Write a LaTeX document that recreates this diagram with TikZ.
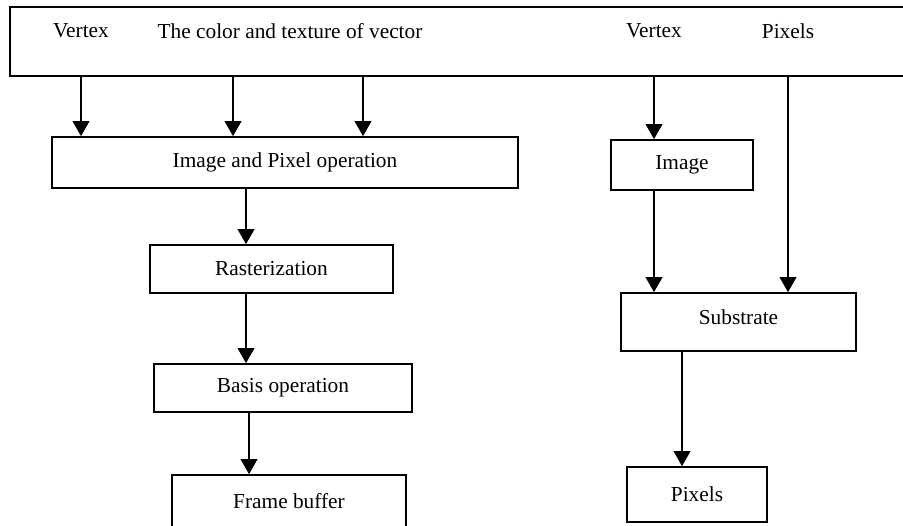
\documentclass[tikz,border=0pt]{standalone}
\usepackage{fontspec}
\setmainfont{Liberation Serif}
\usetikzlibrary{arrows.meta}
\tikzset{>={Triangle[length=9pt,width=10pt]}}
\tikzset{box/.style = {draw, line width=1pt, inner sep=0pt, font=\fontsize{12.8}{15}\selectfont}}
\tikzset{txt/.style = {inner sep=0pt, font=\fontsize{12.8}{15}\selectfont}}
\tikzset{flow/.style = {->, line width=1pt}}

\begin{document}
\begin{tikzpicture}[x=0.6pt, y=-0.6pt]
                    \useasboundingbox (0,0) rectangle (903,526);

                    % input strip along the top
                    \node[box, minimum width=540pt, minimum height=41.4pt] (in) at (460,41.5) {};
                    \node[txt] (vtxA) at (81,31) {Vertex};
                    \node[txt] (col) at (290,31) {The color and texture of vector};
                    \node[txt] (vtxB) at (654,31) {Vertex};
                    \node[txt] (pixA) at (788,31) {Pixels};

                    % left chain
                    \node[box, minimum width=279.6pt, minimum height=30.6pt] (ipo) at (285,162.5) {Image and Pixel operation};
                    \node[box, minimum width=145.8pt, minimum height=28.8pt] (ras) at (271.5,269) {Rasterization};
                    \node[box, minimum width=154.8pt, minimum height=28.8pt] (bas) at (283,388) {Basis operation};
                    \node[box, minimum width=140.4pt, minimum height=31.8pt] (fb) at (289,501.5) {Frame buffer};

                    % right chain
                    \node[box, minimum width=85.2pt, minimum height=30pt] (img) at (682,165) {Image};
                    \node[box, minimum width=141pt, minimum height=34.8pt, text depth=6pt] (sub) at (738.5,322) {Substrate};
                    \node[box, minimum width=84pt, minimum height=33pt] (pixB) at (697,494.5) {Pixels};

                    \coordinate (c1) at (233,0);
                    \coordinate (c2) at (363,0);
                    \coordinate (c3) at (246,0);
                    \coordinate (c4) at (249,0);
                    \coordinate (c5) at (682,0);

                    % inputs down to Image and Pixel operation
                    \draw[flow] (in.south -| vtxA) -- (ipo.north -| vtxA);
                    \draw[flow] (in.south -| c1) -- (ipo.north -| c1);
                    \draw[flow] (in.south -| c2) -- (ipo.north -| c2);

                    % operation to rasterization to basis to frame buffer
                    \draw[flow] (ipo.south -| c3) -- (ras.north -| c3);
                    \draw[flow] (ras.south -| c3) -- (bas.north -| c3);
                    \draw[flow] (bas.south -| c4) -- (fb.north -| c4);

                    % vertex to image, image and pixels to substrate
                    \draw[flow] (in.south -| vtxB) -- (img.north -| vtxB);
                    \draw[flow] (img.south -| vtxB) -- (sub.north -| vtxB);
                    \draw[flow] (in.south -| pixA) -- (sub.north -| pixA);

                    % substrate to pixels
                    \draw[flow] (sub.south -| c5) -- (pixB.north -| c5);
                \end{tikzpicture}
\end{document}
